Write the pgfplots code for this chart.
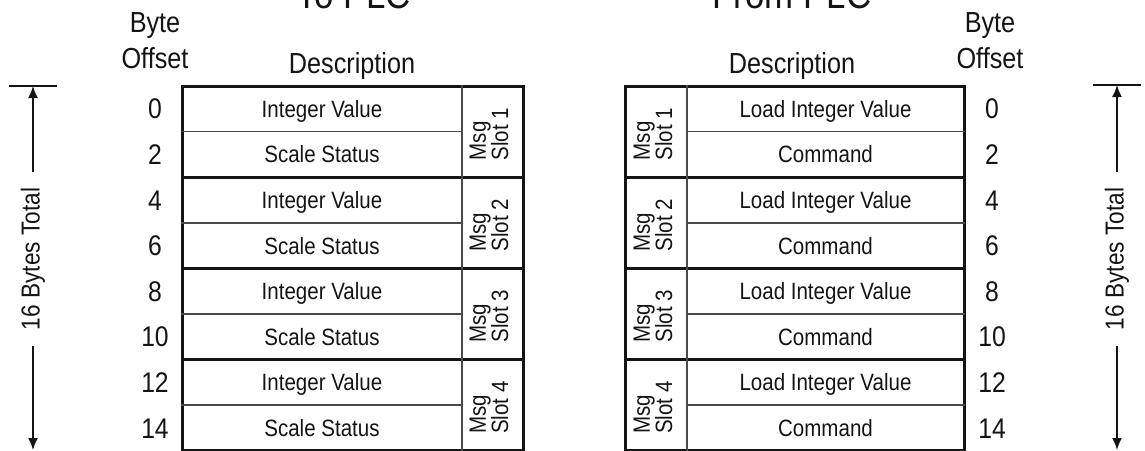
\documentclass[border=0pt]{standalone}
\usepackage{pgfplots}
\pgfplotsset{compat=1.18}
\usepackage{fontspec}
\setmainfont{Liberation Sans}[FakeStretch=0.87]
\usetikzlibrary{arrows.meta}
\definecolor{ink}{HTML}{141414}
\definecolor{thinc}{HTML}{4A4A4A}
\newcommand{\hdr}{\fontsize{14.5}{16}\selectfont}
\newcommand{\num}{\fontsize{14.2}{16}\selectfont}
\newcommand{\cel}{\fontsize{11.8}{13}\selectfont}
\newcommand{\tot}{\fontsize{13}{14}\selectfont}
\newcommand{\slt}{\fontsize{11.8}{11.2}\selectfont}
\newcommand{\ttl}{\fontsize{20}{22}\selectfont}
\begin{document}
\begin{tikzpicture}
\begin{axis}[name=ax, scale only axis, width=572.5pt, height=225pt,
  xmin=0, xmax=1145, ymin=0, ymax=450, y dir=reverse, hide axis, clip=false,
  every axis plot/.append style={line cap=rect, line join=miter}]
% ---------- left table ----------
\addplot[ink, line width=1.5pt] coordinates {(182,86) (523,86) (523,450.8) (182,450.8) (182,86)};
\addplot[ink, line width=1.5pt] coordinates {(182,177.2) (523,177.2)};
\addplot[ink, line width=1.5pt] coordinates {(182,268.4) (523,268.4)};
\addplot[ink, line width=1.5pt] coordinates {(182,359.6) (523,359.6)};
\addplot[thinc, line width=1pt] coordinates {(462,86) (462,450.8)};
\addplot[thinc, line width=0.75pt] coordinates {(182,131.6) (462,131.6)};
\addplot[thinc, line width=0.75pt] coordinates {(182,222.8) (462,222.8)};
\addplot[thinc, line width=0.75pt] coordinates {(182,314) (462,314)};
\addplot[thinc, line width=0.75pt] coordinates {(182,405.2) (462,405.2)};
% ---------- right table ----------
\addplot[ink, line width=1.5pt] coordinates {(625,86) (964,86) (964,450.8) (625,450.8) (625,86)};
\addplot[ink, line width=1.5pt] coordinates {(625,177.2) (964,177.2)};
\addplot[ink, line width=1.5pt] coordinates {(625,268.4) (964,268.4)};
\addplot[ink, line width=1.5pt] coordinates {(625,359.6) (964,359.6)};
\addplot[thinc, line width=1pt] coordinates {(687,86) (687,450.8)};
\addplot[thinc, line width=0.75pt] coordinates {(687,131.6) (964,131.6)};
\addplot[thinc, line width=0.75pt] coordinates {(687,222.8) (964,222.8)};
\addplot[thinc, line width=0.75pt] coordinates {(687,314) (964,314)};
\addplot[thinc, line width=0.75pt] coordinates {(687,405.2) (964,405.2)};
% ---------- arrows ----------
\addplot[ink, line width=0.8pt] coordinates {(10,86) (56,86)};
\addplot[ink, line width=0.8pt, line cap=butt, -{Latex[length=6pt,width=5pt]}] coordinates {(33,172) (33,86)};
\addplot[ink, line width=0.8pt, line cap=butt, -{Latex[length=6pt,width=5pt]}] coordinates {(33,346) (33,450)};
\addplot[ink, line width=0.8pt] coordinates {(10,456) (56,456)};
\addplot[ink, line width=0.8pt] coordinates {(1094,85) (1140,85)};
\addplot[ink, line width=0.8pt, line cap=butt, -{Latex[length=6pt,width=5pt]}] coordinates {(1117,172) (1117,85)};
\addplot[ink, line width=0.8pt, line cap=butt, -{Latex[length=6pt,width=5pt]}] coordinates {(1117,346) (1117,450)};
\addplot[ink, line width=0.8pt] coordinates {(1094,456) (1140,456)};
\node[ink, rotate=90, anchor=center, font=\tot] at (axis cs:33,259) {16 Bytes Total};
\node[ink, rotate=90, anchor=center, font=\tot] at (axis cs:1117,259) {16 Bytes Total};
% ---------- headers ----------
\node[ink, anchor=base, font=\ttl] at (axis cs:354,8) {To PLC};
\node[ink, anchor=base, font=\ttl] at (axis cs:792,8) {From PLC};
\node[ink, anchor=base, font=\hdr] at (axis cs:155,32) {Byte};
\node[ink, anchor=base, font=\hdr] at (axis cs:155,68) {Offset};
\node[ink, anchor=base, font=\hdr] at (axis cs:990,32) {Byte};
\node[ink, anchor=base, font=\hdr] at (axis cs:990,68) {Offset};
\node[ink, anchor=base, font=\hdr] at (axis cs:352,73) {Description};
\node[ink, anchor=base, font=\hdr] at (axis cs:792,73) {Description};
% ---------- byte offsets ----------
\node[ink, anchor=base, font=\num] at (axis cs:155,118.8) {0};
\node[ink, anchor=base, font=\num] at (axis cs:155,164.4) {2};
\node[ink, anchor=base, font=\num] at (axis cs:155,210.0) {4};
\node[ink, anchor=base, font=\num] at (axis cs:155,255.6) {6};
\node[ink, anchor=base, font=\num] at (axis cs:155,301.2) {8};
\node[ink, anchor=base, font=\num] at (axis cs:155,346.8) {10};
\node[ink, anchor=base, font=\num] at (axis cs:155,392.4) {12};
\node[ink, anchor=base, font=\num] at (axis cs:155,438.0) {14};
\node[ink, anchor=base, font=\num] at (axis cs:992,118.8) {0};
\node[ink, anchor=base, font=\num] at (axis cs:992,164.4) {2};
\node[ink, anchor=base, font=\num] at (axis cs:992,210.0) {4};
\node[ink, anchor=base, font=\num] at (axis cs:992,255.6) {6};
\node[ink, anchor=base, font=\num] at (axis cs:992,301.2) {8};
\node[ink, anchor=base, font=\num] at (axis cs:992,346.8) {10};
\node[ink, anchor=base, font=\num] at (axis cs:992,392.4) {12};
\node[ink, anchor=base, font=\num] at (axis cs:992,438.0) {14};
% ---------- cells ----------
\node[ink, anchor=base, font=\cel] at (axis cs:322,117.3) {Integer Value};
\node[ink, anchor=base, font=\cel] at (axis cs:322,162.9) {Scale Status};
\node[ink, anchor=base, font=\cel] at (axis cs:322,208.5) {Integer Value};
\node[ink, anchor=base, font=\cel] at (axis cs:322,254.1) {Scale Status};
\node[ink, anchor=base, font=\cel] at (axis cs:322,299.7) {Integer Value};
\node[ink, anchor=base, font=\cel] at (axis cs:322,345.3) {Scale Status};
\node[ink, anchor=base, font=\cel] at (axis cs:322,390.9) {Integer Value};
\node[ink, anchor=base, font=\cel] at (axis cs:322,436.5) {Scale Status};
\node[ink, anchor=base, font=\cel] at (axis cs:825.5,117.3) {Load Integer Value};
\node[ink, anchor=base, font=\cel] at (axis cs:825.5,162.9) {Command};
\node[ink, anchor=base, font=\cel] at (axis cs:825.5,208.5) {Load Integer Value};
\node[ink, anchor=base, font=\cel] at (axis cs:825.5,254.1) {Command};
\node[ink, anchor=base, font=\cel] at (axis cs:825.5,299.7) {Load Integer Value};
\node[ink, anchor=base, font=\cel] at (axis cs:825.5,345.3) {Command};
\node[ink, anchor=base, font=\cel] at (axis cs:825.5,390.9) {Load Integer Value};
\node[ink, anchor=base, font=\cel] at (axis cs:825.5,436.5) {Command};
% ---------- message slots ----------
\node[ink, rotate=90, align=left, inner sep=0pt, font=\slt] at (axis cs:489,134) {Msg\\Slot 1};
\node[ink, rotate=90, align=left, inner sep=0pt, font=\slt] at (axis cs:489,225.2) {Msg\\Slot 2};
\node[ink, rotate=90, align=left, inner sep=0pt, font=\slt] at (axis cs:489,316.4) {Msg\\Slot 3};
\node[ink, rotate=90, align=left, inner sep=0pt, font=\slt] at (axis cs:489,407.6) {Msg\\Slot 4};
\node[ink, rotate=90, align=left, inner sep=0pt, font=\slt] at (axis cs:653,134) {Msg\\Slot 1};
\node[ink, rotate=90, align=left, inner sep=0pt, font=\slt] at (axis cs:653,225.2) {Msg\\Slot 2};
\node[ink, rotate=90, align=left, inner sep=0pt, font=\slt] at (axis cs:653,316.4) {Msg\\Slot 3};
\node[ink, rotate=90, align=left, inner sep=0pt, font=\slt] at (axis cs:653,407.6) {Msg\\Slot 4};
\end{axis}
\pgfresetboundingbox
\path[use as bounding box] (ax.south west) rectangle (ax.north east);
\end{tikzpicture}
\end{document}
